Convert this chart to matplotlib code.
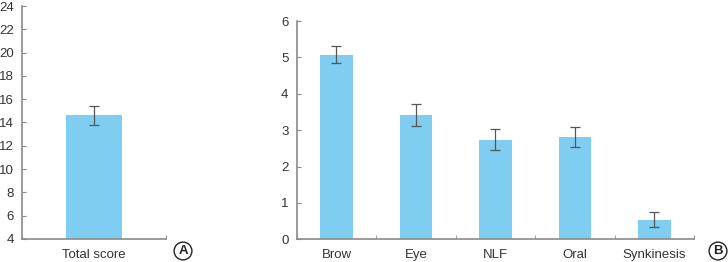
import matplotlib.pyplot as plt
import numpy as np

# Data
total_label = ['Total score']
total_mean = [14.6]
total_err = [0.85]

sub_labels = ['Brow', 'Eye', 'NLF', 'Oral', 'Synkinesis']
sub_mean = [5.08, 3.42, 2.74, 2.81, 0.54]
sub_err = [0.23, 0.31, 0.29, 0.27, 0.21]

bar_color = '#7fcdf0'
axis_color = '#8a8a8a'
text_color = '#333333'

plt.rcParams['font.family'] = ['Liberation Sans', 'DejaVu Sans']
plt.rcParams['font.size'] = 9.5

fig = plt.figure(figsize=(7.28, 2.62), dpi=100)


def style_axis(ax, n):
    for side in ['top', 'right']:
        ax.spines[side].set_visible(False)
    for side in ['left', 'bottom']:
        ax.spines[side].set_color(axis_color)
        ax.spines[side].set_linewidth(1.2)
    ax.set_xlim(-0.5, n - 0.5)
    ax.set_xticks(np.arange(n))
    ax.set_xticks(np.arange(n + 1) - 0.5, minor=True)
    ax.tick_params(axis='x', which='major', length=0, pad=7, colors=text_color)
    ax.tick_params(axis='x', which='minor', direction='in', length=3, color=axis_color)
    ax.tick_params(axis='y', direction='in', length=3, color=axis_color,
                   pad=6, labelcolor=text_color)


# Panel A
ax1 = fig.add_axes([0.0302, 0.088, 0.198, 0.889])
x1 = np.arange(len(total_label))
ax1.bar(x1, total_mean, width=0.39, color=bar_color, bottom=0)
ax1.errorbar(x1, total_mean, yerr=total_err, fmt='none', ecolor='#555555',
             elinewidth=0.9, capsize=3.5, capthick=0.9)
style_axis(ax1, 1)
ax1.set_ylim(4, 24)
ax1.set_yticks(np.arange(4, 25, 2))
ax1.set_xticklabels(total_label)

# Panel B
ax2 = fig.add_axes([0.4076, 0.0866, 0.5457, 0.833])
x2 = np.arange(len(sub_labels))
ax2.bar(x2, sub_mean, width=0.41, color=bar_color)
ax2.errorbar(x2, sub_mean, yerr=sub_err, fmt='none', ecolor='#555555',
             elinewidth=0.9, capsize=3.5, capthick=0.9)
style_axis(ax2, 5)
ax2.set_ylim(0, 6)
ax2.set_yticks(np.arange(0, 7, 1))
ax2.set_xticklabels(sub_labels)

# Circled panel letters
for xpos, letter in [(183 / 728, 'A'), (718 / 728, 'B')]:
    fig.text(xpos, 1 - 251 / 262, letter, ha='center', va='center',
             fontsize=9.5, fontweight='bold', color='#222222',
             bbox=dict(boxstyle='circle,pad=0.22', fc='white', ec='#222222', lw=1.0))

fig.savefig('out.png', dpi=100)
